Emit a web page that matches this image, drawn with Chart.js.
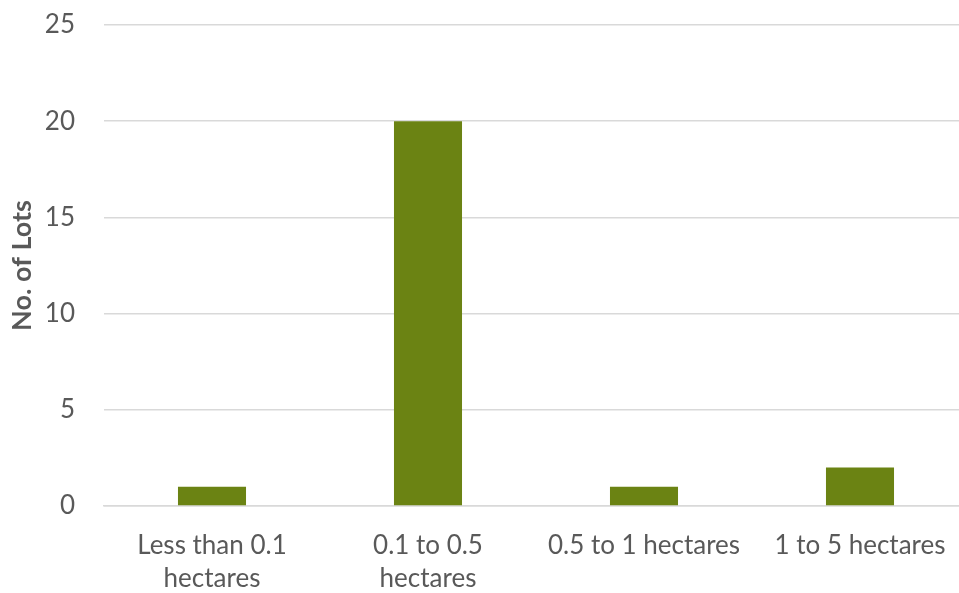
<!DOCTYPE html>
<html>
<head>
<meta charset="utf-8">
<script src="https://cdn.jsdelivr.net/npm/chart.js@4"></script>
<style>
  html, body { margin: 0; padding: 0; background: #fff; overflow: hidden; }
  #wrap { width: 968px; height: 593px; }
</style>
</head>
<body>
<div id="wrap"><canvas id="lotsChart"></canvas></div>
<script>
/* Lot size classes and counts */
var sizeClasses = [["Less than 0.1", "hectares"], ["0.1 to 0.5", "hectares"], "0.5 to 1 hectares", "1 to 5 hectares"];
var lotCounts = [1, 20, 1, 2];

/* Y axis */
var yMin = 0;
var yMax = 25;
var yStep = 5;
var yTitle = "No. of Lots";

var textColor = "#595959";
var gridColor = "#D9D9D9";
var barColor = "#6B8313";

window.addEventListener("DOMContentLoaded", function () {
	const ctx = document.getElementById("lotsChart").getContext("2d");
	new Chart(ctx, {
		type: 'bar',
		data: {
			labels: sizeClasses,
			datasets: [
				{
					data: lotCounts,
					backgroundColor: barColor,
					borderWidth: 0,
					categoryPercentage: 1,
					barPercentage: 0.315
				}
			]
		},
		options: {
			responsive: true,
			maintainAspectRatio: false,
			animation: false,
			layout: {
				padding: { top: 25, right: 0, bottom: 0, left: 0 }
			},
			plugins: {
				legend: { display: false },
				tooltip: { enabled: false }
			},
			scales: {
				x: {
					grid: { display: false, drawTicks: false },
					border: { display: true, color: gridColor, width: 1.5 },
					ticks: {
						color: textColor,
						font: { family: "Lato", size: 26, lineHeight: 1.27 },
						padding: 23,
						maxRotation: 0,
						autoSkip: false
					},
					afterFit: function (scale) {
						scale.height = 87;
						scale.paddingLeft = 0;
						scale.paddingRight = 0;
					}
				},
				y: {
					min: yMin,
					max: yMax,
					grid: { color: gridColor, lineWidth: 1.5, drawTicks: false },
					border: { display: false },
					ticks: {
						stepSize: yStep,
						color: textColor,
						font: { family: "Lato", size: 26 },
						padding: 29
					},
					title: {
						display: true,
						text: yTitle,
						color: textColor,
						font: { family: "Lato", size: 27, weight: "bold" },
						padding: { top: 6, bottom: 0 }
					},
					afterFit: function (scale) {
						scale.width = 104;
						scale.paddingTop = 0;
						scale.paddingBottom = 0;
					}
				}
			}
		}
	});
}, false);
</script>
</body>
</html>
